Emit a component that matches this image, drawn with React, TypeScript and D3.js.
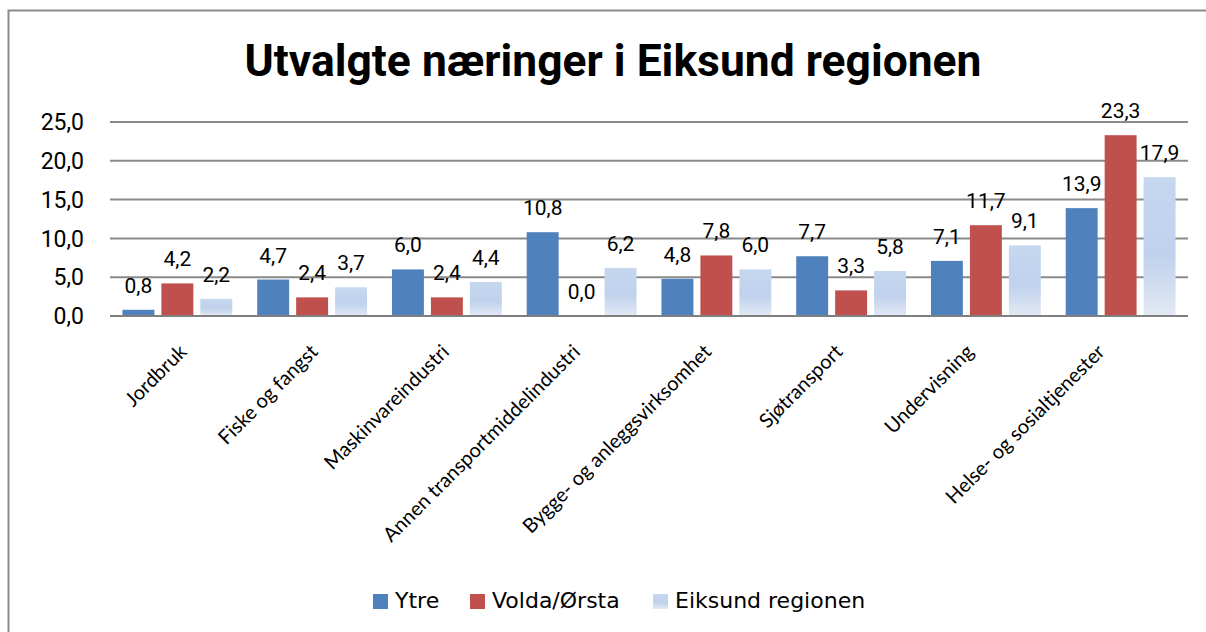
import React, { useEffect, useRef } from "react";
import * as d3 from "d3";

const categories = [
  "Jordbruk",
  "Fiske og fangst",
  "Maskinvareindustri",
  "Annen transportmiddelindustri",
  "Bygge- og anleggsvirksomhet",
  "Sjøtransport",
  "Undervisning",
  "Helse- og sosialtjenester",
];
const seriesNames = ["Ytre", "Volda/Ørsta", "Eiksund regionen"];
const ytre = [0.8, 4.7, 6.0, 10.8, 4.8, 7.7, 7.1, 13.9];
const voldaOrsta = [4.2, 2.4, 2.4, 0.0, 7.8, 3.3, 11.7, 23.3];
const eiksund = [2.2, 3.7, 4.4, 6.2, 6.0, 5.8, 9.1, 17.9];
const yTicks = [0, 5, 10, 15, 20, 25];

const WIDTH = 1206;
const HEIGHT = 632;
const NARROW = "'Liberation Sans Narrow', 'Arial Narrow', 'Roboto', sans-serif";
const LABEL_FONT = "'Lato', 'Open Sans', sans-serif";

const fmt = d3.formatLocale({ decimal: ",", thousands: " ", grouping: [3], currency: ["", ""] }).format(".1f");

export default function App() {
  const ref = useRef<SVGSVGElement>(null);

  useEffect(() => {
    const svg = d3.select(ref.current);
    svg.selectAll("*").remove();

    const values = [ytre, voldaOrsta, eiksund];
    const fills = ["#4f81bd", "#c0504d", "url(#lightGrad)"];

    const defs = svg.append("defs");
    const grad = defs
      .append("linearGradient")
      .attr("id", "lightGrad")
      .attr("x1", 0)
      .attr("y1", 0)
      .attr("x2", 0)
      .attr("y2", 1);
    grad.append("stop").attr("offset", "0%").attr("stop-color", "#c6d8f0");
    grad.append("stop").attr("offset", "55%").attr("stop-color", "#bfd1ec");
    grad.append("stop").attr("offset", "100%").attr("stop-color", "#e2e9f4");

    // frame (only top and left edges visible)
    svg
      .append("path")
      .attr("d", `M8.5,${HEIGHT} V10.5 H${WIDTH}`)
      .attr("fill", "none")
      .attr("stroke", "#8c8c8c")
      .attr("stroke-width", 2);

    svg
      .append("text")
      .attr("x", 613)
      .attr("y", 76)
      .attr("text-anchor", "middle")
      .attr("font-family", NARROW)
      .attr("font-weight", "bold")
      .attr("font-size", 44)
      .attr("textLength", 737)
      .attr("lengthAdjust", "spacingAndGlyphs")
      .attr("fill", "#000")
      .text("Utvalgte næringer i Eiksund regionen");

    const x0 = d3.scaleBand<string>().domain(categories).range([110, 1188]);
    const x1 = d3
      .scaleBand<number>()
      .domain([0, 1, 2])
      .range([0, x0.bandwidth()])
      .paddingInner(0.18)
      .paddingOuter(0.32);
    const y = d3.scaleLinear().domain([0, 25]).range([316, 122]);
    const labelX = d3.scalePoint<string>().domain(categories).range([188, 1106]);

    // gridlines
    svg
      .append("g")
      .selectAll("line")
      .data(yTicks)
      .enter()
      .append("line")
      .attr("x1", 110)
      .attr("x2", 1188)
      .attr("y1", d => y(d))
      .attr("y2", d => y(d))
      .attr("stroke", "#8a8a8a")
      .attr("stroke-width", 2);

    svg
      .append("g")
      .selectAll("text")
      .data(yTicks)
      .enter()
      .append("text")
      .attr("x", 84)
      .attr("y", d => y(d))
      .attr("dy", "0.36em")
      .attr("text-anchor", "end")
      .attr("font-family", NARROW)
      .attr("font-size", 23)
      .attr("fill", "#000")
      .text(d => fmt(d));

    // bars
    values.forEach((vals, s) => {
      const g = svg.append("g");
      g.selectAll("rect")
        .data(vals)
        .enter()
        .append("rect")
        .attr("x", (d, i) => (x0(categories[i]) as number) + (x1(s) as number))
        .attr("y", d => y(d))
        .attr("width", x1.bandwidth())
        .attr("height", d => y(0) - y(d))
        .attr("fill", fills[s]);
      g.selectAll("text")
        .data(vals)
        .enter()
        .append("text")
        .attr("x", (d, i) => (x0(categories[i]) as number) + (x1(s) as number) + x1.bandwidth() / 2)
        .attr("y", d => y(d) - 17)
        .attr("text-anchor", "middle")
        .attr("font-family", NARROW)
        .attr("font-size", 21)
        .attr("fill", "#000")
        .text(d => fmt(d));
    });

    // axis baseline
    svg
      .append("line")
      .attr("x1", 110)
      .attr("x2", 1188)
      .attr("y1", y(0))
      .attr("y2", y(0))
      .attr("stroke", "#7f7f7f")
      .attr("stroke-width", 2);

    // category labels
    svg
      .append("g")
      .selectAll("text")
      .data(categories)
      .enter()
      .append("text")
      .attr("transform", d => `translate(${labelX(d)},353) rotate(-45)`)
      .attr("text-anchor", "end")
      .attr("font-family", LABEL_FONT)
      .attr("font-size", 20)
      .attr("fill", "#000")
      .text(d => d);

    // legend
    const legendX = [373, 470, 653];
    const legend = svg
      .append("g")
      .selectAll("g")
      .data(seriesNames)
      .enter()
      .append("g")
      .attr("transform", (d, i) => `translate(${legendX[i]},594)`);
    legend
      .append("rect")
      .attr("width", 15)
      .attr("height", 15)
      .attr("fill", (d, i) => fills[i]);
    legend
      .append("text")
      .attr("x", 22)
      .attr("y", 14)
      .attr("font-family", "'DejaVu Sans', sans-serif")
      .attr("font-size", 22)
      .attr("fill", "#000")
      .text(d => d);
  }, []);

  return (
    <svg
      ref={ref}
      width={WIDTH}
      height={HEIGHT}
      style={{ position: "absolute", left: 0, top: 0, background: "#fff" }}
    />
  );
}
